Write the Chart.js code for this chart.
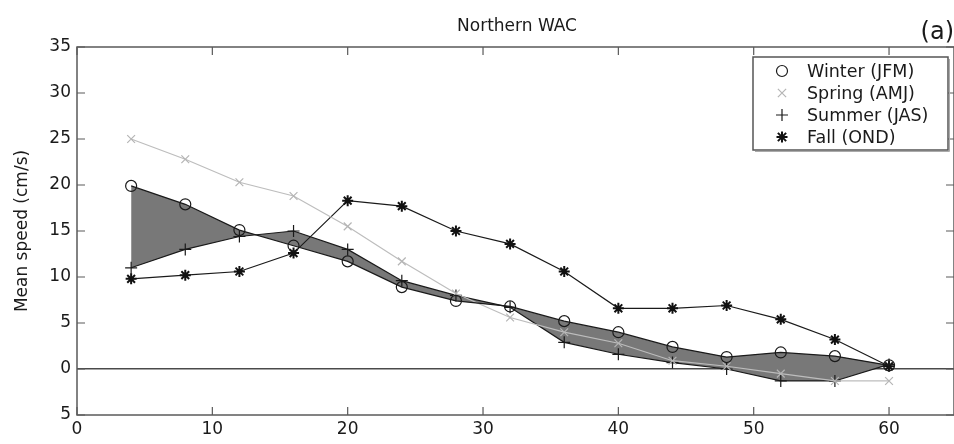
<!DOCTYPE html>
<html><head><meta charset="utf-8">
<script src="https://cdn.jsdelivr.net/npm/chart.js@4.4.1/dist/chart.umd.min.js"></script>
<style>html,body{margin:0;padding:0;background:#fff}#wrap{width:954px;height:444px}</style>
</head><body><div id="wrap"><canvas id="c" width="954" height="444"></canvas></div>
<script>
// ---- data ----
const distances = [4, 8, 12, 16, 20, 24, 28, 32, 36, 40, 44, 48, 52, 56, 60];
const winter = [19.9, 17.9, 15.1, 13.4, 11.7, 8.9, 7.4, 6.8, 5.2, 4.0, 2.4, 1.3, 1.8, 1.4, 0.4];
const spring = [25.0, 22.8, 20.3, 18.8, 15.5, 11.7, 8.2, 5.6, 4.0, 2.8, 0.9, 0.3, -0.5, -1.3, -1.3];
const summer = [11.0, 13.0, 14.4, 15.0, 13.0, 9.6, 8.0, 6.7, 2.9, 1.6, 0.7, 0.0, -1.3, -1.3, 0.5];
const fall   = [9.8, 10.2, 10.6, 12.6, 18.3, 17.7, 15.0, 13.6, 10.6, 6.6, 6.6, 6.9, 5.4, 3.2, 0.3];
const seriesLabels = ['Winter (JFM)', 'Spring (AMJ)', 'Summer (JAS)', 'Fall (OND)'];
const xTickValues = [0, 10, 20, 30, 40, 50, 60];
const yTickValues = [35, 30, 25, 20, 15, 10, 5, 0, -5];
const yTickText = ['35', '30', '25', '20', '15', '10', '5', '0', '5'];
const chartTitle = 'Northern WAC';
const panelLabel = '(a)';
const yAxisTitle = 'Mean speed (cm/s)';

const FONT = 'DejaVu Sans';
const INK = '#1a1a1a';
const pts = arr => distances.map((d, i) => ({x: d, y: arr[i]}));

const framePlugin = {
  id: 'frame',
  afterDatasetsDraw(chart) {
    const {ctx, chartArea: a, scales: {x, y}} = chart;
    ctx.save();
    ctx.strokeStyle = '#5a5a5a';
    ctx.lineWidth = 1.5;
    ctx.strokeRect(a.left, a.top, a.right - a.left, a.bottom - a.top);
    ctx.lineWidth = 1.2;
    const L = 8;
    ctx.beginPath();
    xTickValues.forEach(v => {
      const px = x.getPixelForValue(v);
      ctx.moveTo(px, a.bottom); ctx.lineTo(px, a.bottom - L);
      ctx.moveTo(px, a.top); ctx.lineTo(px, a.top + L);
    });
    yTickValues.forEach(v => {
      const py = y.getPixelForValue(v);
      ctx.moveTo(a.left, py); ctx.lineTo(a.left + L, py);
      ctx.moveTo(a.right, py); ctx.lineTo(a.right - L, py);
    });
    ctx.stroke();
    ctx.restore();
  },
  afterDraw(chart) {
    const {ctx} = chart;
    ctx.save();
    ctx.fillStyle = INK;
    ctx.textBaseline = 'middle';
    ctx.textAlign = 'center';
    ctx.font = '17px "' + FONT + '"';
    ctx.fillText(chartTitle, 517, 27);
    ctx.textAlign = 'right';
    ctx.font = '24px "' + FONT + '"';
    ctx.fillText(panelLabel, 954, 33);
    // legend
    const bx = 753, by = 57, bw = 195, bh = 93;
    ctx.fillStyle = '#fff';
    ctx.fillRect(bx, by, bw, bh);
    ctx.strokeStyle = '#555';
    ctx.lineWidth = 1.5;
    ctx.strokeRect(bx, by, bw, bh);
    ctx.strokeStyle = '#aaa';
    ctx.lineWidth = 1;
    ctx.beginPath();
    ctx.moveTo(bx + 2, by + bh + 1.5); ctx.lineTo(bx + bw + 1.5, by + bh + 1.5); ctx.lineTo(bx + bw + 1.5, by + 2);
    ctx.stroke();
    ctx.font = '17.5px "' + FONT + '"';
    ctx.textAlign = 'left';
    chart.data.datasets.forEach((ds, i) => {
      const cy = by + 14 + i * 22;
      const cx = 782;
      ctx.strokeStyle = ds.pointBorderColor;
      ctx.lineWidth = ds.pointBorderWidth || 1;
      const r = ds.pointRadius;
      ctx.beginPath();
      if (ds.pointStyle === 'circle') {
        ctx.arc(cx, cy, r, 0, Math.PI * 2);
      } else if (ds.pointStyle === 'crossRot') {
        const d = r * 0.75;
        ctx.moveTo(cx - d, cy - d); ctx.lineTo(cx + d, cy + d);
        ctx.moveTo(cx + d, cy - d); ctx.lineTo(cx - d, cy + d);
      } else if (ds.pointStyle === 'cross') {
        ctx.moveTo(cx - r, cy); ctx.lineTo(cx + r, cy);
        ctx.moveTo(cx, cy - r); ctx.lineTo(cx, cy + r);
      } else {
        const d = r * 0.75;
        ctx.moveTo(cx - r, cy); ctx.lineTo(cx + r, cy);
        ctx.moveTo(cx, cy - r); ctx.lineTo(cx, cy + r);
        ctx.moveTo(cx - d, cy - d); ctx.lineTo(cx + d, cy + d);
        ctx.moveTo(cx + d, cy - d); ctx.lineTo(cx - d, cy + d);
      }
      ctx.stroke();
      ctx.fillStyle = INK;
      ctx.fillText(ds.label, 807, cy + 1);
    });
    ctx.restore();
  }
};

new Chart(document.getElementById('c'), {
  type: 'line',
  data: {
    datasets: [
      {label: seriesLabels[0], data: pts(winter), borderColor: '#1a1a1a', borderWidth: 1.2,
       backgroundColor: '#787878', fill: 2, pointStyle: 'circle', pointRadius: 5.5,
       pointBorderColor: '#1a1a1a', pointBackgroundColor: 'rgba(0,0,0,0)', pointBorderWidth: 1.2, tension: 0},
      {label: seriesLabels[1], data: pts(spring), borderColor: '#bdbdbd', borderWidth: 1.2,
       fill: false, pointStyle: 'crossRot', pointRadius: 5.5, pointBorderColor: '#b5b5b5',
       pointBorderWidth: 1.2, tension: 0},
      {label: seriesLabels[2], data: pts(summer), borderColor: '#1a1a1a', borderWidth: 1.2,
       fill: false, pointStyle: 'cross', pointRadius: 6, pointBorderColor: '#1a1a1a',
       pointBorderWidth: 1.2, tension: 0},
      {label: seriesLabels[3], data: pts(fall), borderColor: '#1a1a1a', borderWidth: 1.2,
       fill: false, pointStyle: 'star', pointRadius: 5.5, pointBorderColor: '#111',
       pointBorderWidth: 2, tension: 0}
    ]
  },
  options: {
    responsive: false,
    devicePixelRatio: 1,
    animation: false,
    layout: {autoPadding: false, padding: {top: 47, left: 0, right: 0, bottom: 0}},
    plugins: {
      legend: {display: false},
      title: {display: false},
      tooltip: {enabled: false},
      filler: {drawTime: 'beforeDatasetsDraw'}
    },
    scales: {
      x: {
        type: 'linear', position: 'bottom', min: 0, max: 64.8,
        ticks: {stepSize: 10, color: INK, font: {family: FONT, size: 17}, padding: 4, maxRotation: 0,
                callback: v => (xTickValues.includes(v) ? String(v) : '')},
        afterBuildTicks: s => { s.ticks = xTickValues.map(v => ({value: v})); },
        grid: {display: false, drawTicks: false},
        border: {display: false},
        afterFit: s => { s.height = 29; s.paddingRight = 0; s.paddingLeft = 0; }
      },
      y: {
        min: -5, max: 35,
        ticks: {stepSize: 5, color: INK, font: {family: FONT, size: 17}, padding: 6,
                callback: v => { const i = yTickValues.indexOf(v); return i >= 0 ? yTickText[i] : ''; }},
        afterBuildTicks: s => { s.ticks = yTickValues.slice().reverse().map(v => ({value: v})); },
        grid: {drawTicks: false, lineWidth: 1.5,
               color: c => (c.tick && c.tick.value === 0 ? '#4a4a4a' : 'rgba(0,0,0,0)')},
        border: {display: false},
        title: {display: true, text: yAxisTitle, color: INK, font: {family: FONT, size: 17}, padding: {top: 12, bottom: 0}},
        afterFit: s => { s.width = 77; }
      }
    }
  },
  plugins: [framePlugin]
});
</script>
</body></html>
